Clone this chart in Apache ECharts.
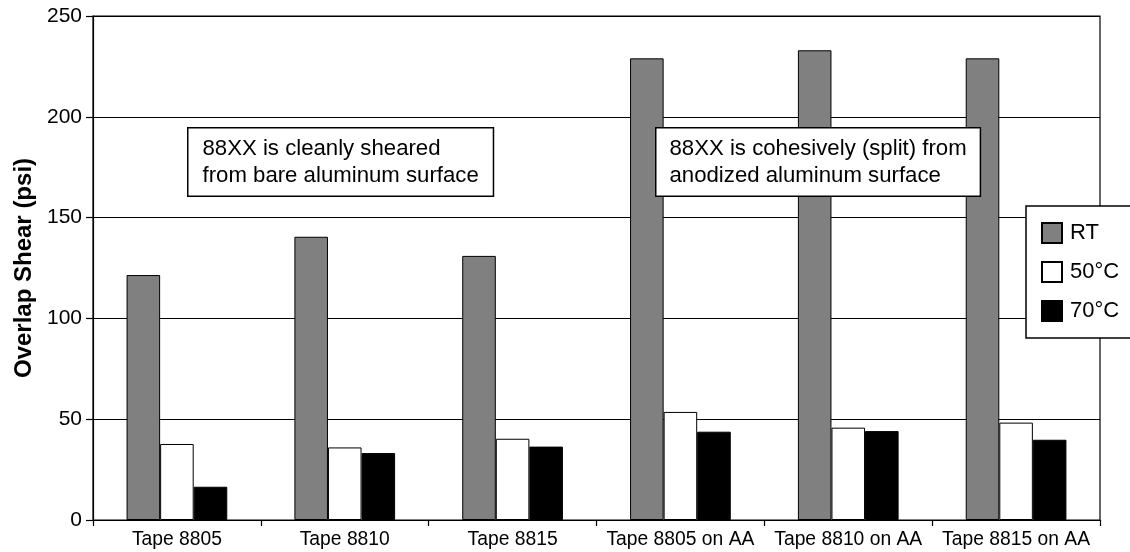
<!DOCTYPE html>
<html>
<head>
<meta charset="utf-8">
<script src="https://cdn.jsdelivr.net/npm/echarts@6/dist/echarts.min.js"></script>
<style>
html,body{margin:0;padding:0;background:#fff;}
#chart{width:1130px;height:552px;}
</style>
</head>
<body>
<div id="chart"></div>
<script>
var categories = ['Tape 8805', 'Tape 8810', 'Tape 8815', 'Tape 8805 on AA', 'Tape 8810 on AA', 'Tape 8815 on AA'];
var rtValues = [121.5, 140.5, 131, 229, 233, 229];
var c50Values = [37.7, 36, 40.3, 53.6, 45.8, 48.3];
var c70Values = [16.5, 33.2, 36.4, 43.8, 44.1, 39.8];
var yTicks = [0, 50, 100, 150, 200, 250];
var seriesNames = ['RT', '50°C', '70°C'];
var note1 = ['88XX is cleanly sheared', 'from bare aluminum surface'];
var note2 = ['88XX is cohesively (split) from', 'anodized aluminum surface'];

var FONT = '"Liberation Sans", Arial, sans-serif';
var chart = echarts.init(document.getElementById('chart'));

function barSeries(name, data, color) {
  return {
    name: name,
    type: 'bar',
    data: data,
    barGap: '0%',
    barCategoryGap: '40%',
    itemStyle: { color: color, borderColor: '#000', borderWidth: 1 },
    emphasis: { disabled: true },
    animation: false
  };
}

function noteBox(left, top, lines, padding) {
  return {
    type: 'text',
    left: left,
    top: top,
    z: 100,
    style: {
      text: lines.join('\n'),
      fontFamily: FONT,
      fontSize: 22.2,
      lineHeight: 27,
      fill: '#000',
      backgroundColor: '#fff',
      borderColor: '#000',
      borderWidth: 1.5,
      padding: padding
    }
  };
}

chart.setOption({
  backgroundColor: '#fff',
  animation: false,
  grid: { left: 93, right: 30, top: 16, bottom: 32, show: true, borderColor: '#000', borderWidth: 1.2, backgroundColor: 'transparent' },
  legend: {
    orient: 'vertical',
    left: 1026,
    top: 206,
    data: seriesNames,
    icon: 'rect',
    itemWidth: 20,
    itemHeight: 20,
    itemGap: 17,
    padding: [16, 20, 16, 15],
    backgroundColor: '#fff',
    borderColor: '#000',
    borderWidth: 1.5,
    textStyle: { fontFamily: FONT, fontSize: 22, color: '#000', padding: [0, 0, 0, 3] },
    selectedMode: false,
    z: 50
  },
  xAxis: {
    type: 'category',
    data: categories,
    axisLine: { lineStyle: { color: '#000', width: 1.2 } },
    axisTick: { show: true, length: 6, lineStyle: { color: '#000', width: 1.2 } },
    axisLabel: { fontFamily: FONT, fontSize: 19.3, color: '#000', margin: 10, interval: 0 }
  },
  yAxis: {
    type: 'value',
    min: yTicks[0],
    max: yTicks[yTicks.length - 1],
    interval: 50,
    name: 'Overlap Shear (psi)',
    nameLocation: 'middle',
    nameGap: 57,
    nameTextStyle: { fontFamily: FONT, fontSize: 24, fontWeight: 'bold', color: '#000' },
    axisLine: { show: true, lineStyle: { color: '#000', width: 1.2 } },
    axisTick: { show: true, length: 7, lineStyle: { color: '#000', width: 1.2 } },
    axisLabel: { fontFamily: FONT, fontSize: 21, color: '#000', margin: 11 },
    splitLine: { show: true, lineStyle: { color: '#000', width: 1.2 } }
  },
  series: [
    barSeries(seriesNames[0], rtValues, '#808080'),
    barSeries(seriesNames[1], c50Values, '#ffffff'),
    barSeries(seriesNames[2], c70Values, '#000000')
  ],
  graphic: [
    noteBox(187, 127, note1, [7, 14, 6, 14]),
    noteBox(655, 127, note2, [7, 13, 6, 13])
  ]
});
</script>
</body>
</html>
